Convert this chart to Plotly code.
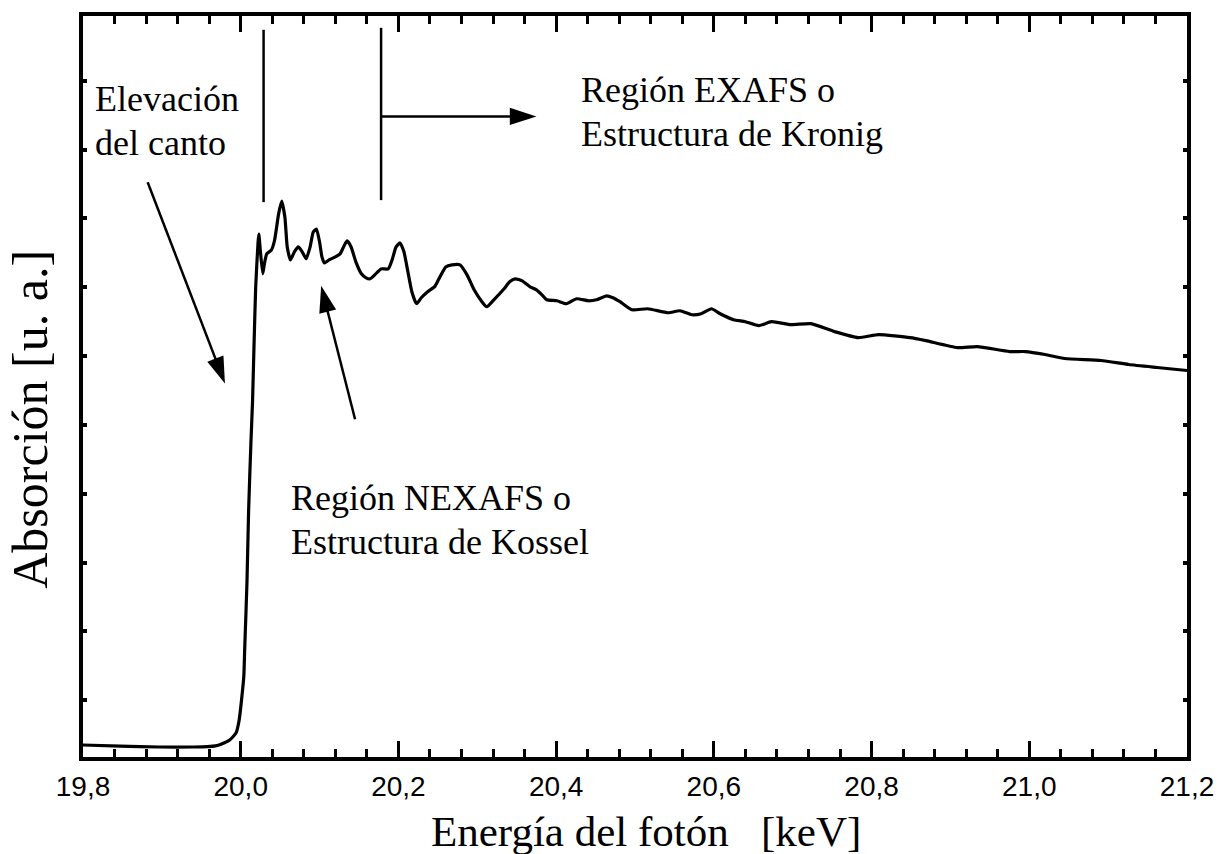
import plotly.graph_objects as go

# Absorption spectrum around the K edge (photon energy in keV, absorption in arbitrary units)
energy_kev = [
    19.800, 19.847, 19.897, 19.940, 19.958, 19.968, 19.975, 19.986, 19.994, 19.998, 20.001,
    20.004, 20.005, 20.008, 20.010, 20.013, 20.015, 20.017, 20.019, 20.022, 20.023,
    20.025, 20.028, 20.030, 20.033, 20.039, 20.043, 20.048, 20.052, 20.056, 20.059,
    20.063, 20.068, 20.073, 20.078, 20.083, 20.088, 20.092, 20.096, 20.100, 20.103,
    20.106, 20.112, 20.120, 20.126, 20.131, 20.135, 20.140, 20.146, 20.153, 20.159,
    20.164, 20.170, 20.178, 20.187, 20.192, 20.197, 20.202, 20.207, 20.212, 20.217,
    20.223, 20.229, 20.237, 20.246, 20.252, 20.260, 20.268, 20.278, 20.287, 20.296,
    20.305, 20.312, 20.321, 20.334, 20.341, 20.348, 20.357, 20.367, 20.375, 20.382,
    20.388, 20.401, 20.413, 20.426, 20.441, 20.451, 20.464, 20.472, 20.481, 20.496,
    20.516, 20.542, 20.557, 20.572, 20.584, 20.597, 20.608, 20.625, 20.640, 20.657,
    20.673, 20.698, 20.723, 20.753, 20.783, 20.809, 20.849, 20.869, 20.909, 20.934,
    20.975, 20.995, 21.020, 21.045, 21.091, 21.126, 21.162, 21.200,
]
absorption = [
    0.349, 0.334, 0.320, 0.320, 0.325, 0.336, 0.360, 0.421, 0.522, 0.710, 1.000,
    1.362, 1.724, 2.737, 3.750, 4.763, 5.342, 6.210, 7.006, 7.657, 7.773,
    7.514, 7.195, 7.339, 7.484, 7.542, 7.686, 8.062, 8.250, 8.019, 7.585,
    7.397, 7.514, 7.585, 7.514, 7.413, 7.585, 7.802, 7.845, 7.657, 7.440,
    7.353, 7.397, 7.440, 7.484, 7.600, 7.672, 7.585, 7.368, 7.195, 7.136,
    7.122, 7.180, 7.266, 7.266, 7.397, 7.585, 7.643, 7.514, 7.224, 6.935,
    6.760, 6.847, 6.935, 7.008, 7.136, 7.295, 7.324, 7.324, 7.180, 6.962,
    6.803, 6.716, 6.817, 6.977, 7.078, 7.122, 7.093, 7.006, 6.962, 6.890,
    6.817, 6.803, 6.760, 6.832, 6.803, 6.817, 6.875, 6.847, 6.789, 6.673,
    6.687, 6.629, 6.658, 6.600, 6.615, 6.687, 6.615, 6.528, 6.499, 6.441,
    6.499, 6.456, 6.470, 6.355, 6.268, 6.311, 6.268, 6.224, 6.123, 6.138,
    6.065, 6.065, 6.022, 5.964, 5.935, 5.877, 5.834, 5.790,
]

x_ticks = [19.8, 20.0, 20.2, 20.4, 20.6, 20.8, 21.0, 21.2]
y_ticks = [1, 2, 3, 4, 5, 6, 7, 8, 9, 10]

# Region boundaries (keV)
edge_limit = 20.029
nexafs_limit = 20.178

serif = "Liberation Serif, Times New Roman, serif"
sans = "Liberation Sans, Arial, Helvetica, sans-serif"
label_size = 36

fig = go.Figure()
fig.add_trace(go.Scatter(
    x=energy_kev, y=absorption, mode="lines",
    line=dict(color="black", width=3.2, shape="spline", smoothing=0.5),
    hoverinfo="skip", showlegend=False,
))

# Vertical markers separating the spectral regions
for xv, y0, y1 in [(edge_limit, 8.236, 10.740), (nexafs_limit, 8.265, 10.768)]:
    fig.add_shape(type="line", xref="x", yref="y", x0=xv, x1=xv, y0=y0, y1=y1,
                  line=dict(color="black", width=2.5))

# Pointer arrows: (tail x, tail y, tip x, tip y)
arrows = [
    (nexafs_limit, 9.481, 20.375, 9.481),
    (19.882, 8.525, 19.980, 5.602),
    (20.145, 5.081, 20.102, 7.020),
]
for tx, ty, hx, hy in arrows:
    fig.add_trace(go.Scatter(
        x=[tx, hx], y=[ty, hy], mode="lines+markers",
        line=dict(color="black", width=2.5),
        marker=dict(symbol="arrow", size=[0, 28], color="black", opacity=1,
                    angleref="previous", line=dict(width=0)),
        hoverinfo="skip", showlegend=False,
    ))

labels = [
    ("Elevación", 19.8126, 9.74),
    ("del canto", 19.8126, 9.10),
    ("Región EXAFS o", 20.4295, 9.87),
    ("Estructura de Kronig", 20.4295, 9.22),
    ("Región NEXAFS o", 20.0606, 3.938),
    ("Estructura de Kossel", 20.0606, 3.301),
]
for txt, lx, ly in labels:
    fig.add_annotation(x=lx, y=ly, xref="x", yref="y", text=txt, showarrow=False,
                       xanchor="left", yanchor="middle",
                       font=dict(family=serif, size=label_size, color="black"))

# Axis titles
fig.add_annotation(x=0.51, y=-0.101, xref="paper", yref="paper", text="Energía del fotón   [keV]",
                   showarrow=False, xanchor="center", yanchor="middle",
                   font=dict(family=serif, size=43, color="black"))
fig.add_annotation(x=-0.0477, y=0.4556, xref="paper", yref="paper", text="Absorción [u. a.]",
                   showarrow=False, xanchor="center", yanchor="middle", textangle=-90,
                   font=dict(family=serif, size=50, color="black"))

fig.update_layout(
    width=1226, height=854,
    margin=dict(l=83, r=31, t=13, b=97),
    paper_bgcolor="white", plot_bgcolor="white",
    separators=", ",
    xaxis=dict(
        range=[19.8, 21.2], tickvals=x_ticks, tickformat=".1f",
        ticks="inside", ticklen=16, tickwidth=2.5, tickcolor="black",
        minor=dict(dtick=0.04, tick0=19.8, ticks="inside", ticklen=8, tickwidth=2.5, tickcolor="black"),
        showline=True, linewidth=3.5, linecolor="black", mirror="ticks",
        showgrid=False, zeroline=False,
        tickfont=dict(family=sans, size=28, color="black"),
        ticklabelstandoff=2,
    ),
    yaxis=dict(
        range=[0.175, 10.94], tickvals=y_ticks, showticklabels=False,
        ticks="inside", ticklen=4, tickwidth=4, tickcolor="black",
        showline=True, linewidth=3.5, linecolor="black", mirror="ticks",
        showgrid=False, zeroline=False,
    ),
)

fig.write_html("out.html")
